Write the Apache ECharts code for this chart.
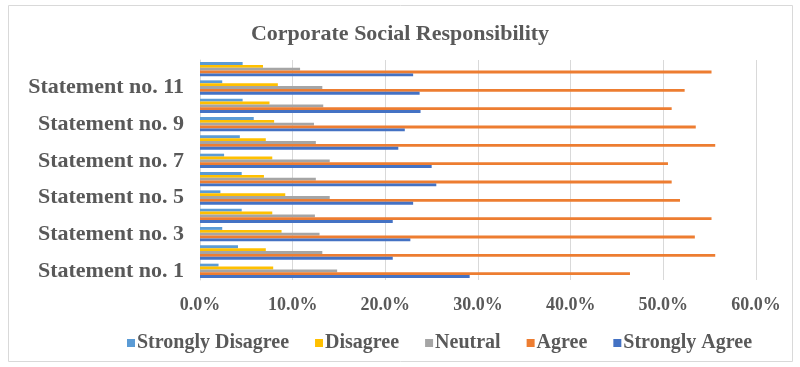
<!DOCTYPE html>
<html>
<head>
<meta charset="utf-8">
<script src="https://cdn.jsdelivr.net/npm/echarts@6/dist/echarts.min.js"></script>
<style>html,body{margin:0;padding:0;background:#fff}#c{width:800px;height:367px}</style>
</head>
<body>
<div id="c"></div>
<script>
var categories = ['Statement no. 1','Statement no. 2','Statement no. 3','Statement no. 4','Statement no. 5','Statement no. 6','Statement no. 7','Statement no. 8','Statement no. 9','Statement no. 10','Statement no. 11','Statement no. 12'];
var stronglyDisagree = [2.0, 4.1, 2.4, 4.5, 2.2, 4.5, 2.6, 4.3, 5.8, 4.6, 2.4, 4.6];
var disagree         = [7.9, 7.1, 8.8, 7.8, 9.2, 6.9, 7.8, 7.1, 8.0, 7.5, 8.4, 6.8];
var neutral          = [14.8, 13.2, 12.9, 12.4, 14.0, 12.5, 14.0, 12.5, 12.3, 13.3, 13.2, 10.8];
var agree            = [46.4, 55.6, 53.4, 55.2, 51.8, 50.9, 50.5, 55.6, 53.5, 50.9, 52.3, 55.2];
var stronglyAgree    = [29.1, 20.8, 22.7, 20.8, 23.0, 25.5, 25.0, 21.4, 22.1, 23.8, 23.7, 23.0];
var xTicks = [0, 10, 20, 30, 40, 50, 60];

var font = '"Liberation Serif", "Times New Roman", serif';
var chart = echarts.init(document.getElementById('c'));
function s(name, data, color) {
  return { name: name, type: 'bar', data: data, itemStyle: { color: color }, barGap: '0%', barCategoryGap: '22%' };
}
chart.setOption({
  animation: false,
  title: { text: 'Corporate Social Responsibility', left: 'center', top: 18,
    textStyle: { fontFamily: font, fontSize: 22, fontWeight: 'bold', color: '#595959' } },
  graphic: [{ type: 'rect', shape: { x: 8.5, y: 5.5, width: 784, height: 356 },
    style: { fill: 'none', stroke: '#d9d9d9', lineWidth: 1 }, z: -1 }],
  legend: { bottom: 9, left: 122, itemWidth: 8, itemHeight: 8, itemGap: 26, icon: 'rect',
    data: ['Strongly Disagree', 'Disagree', 'Neutral', 'Agree', 'Strongly Agree'],
    textStyle: { fontFamily: font, fontSize: 20, fontWeight: 'bold', color: '#595959', padding: [0,0,0,-3] } },
  grid: { left: 200, right: 44, top: 60, bottom: 87, containLabel: false },
  xAxis: { type: 'value', min: xTicks[0], max: xTicks[xTicks.length-1], interval: 10,
    axisLine: { show: false }, axisTick: { show: false },
    splitLine: { lineStyle: { color: '#d9d9d9' } },
    axisLabel: { margin: 16, fontFamily: font, fontSize: 18, fontWeight: 'bold', color: '#595959',
      formatter: function (v) { return v.toFixed(1) + '%'; } } },
  yAxis: { type: 'category', data: categories,
    axisLine: { show: true, lineStyle: { color: '#d9d9d9' } }, axisTick: { show: false },
    axisLabel: { interval: 1, margin: 16, fontFamily: font, fontSize: 22, fontWeight: 'bold', color: '#595959' } },
  series: [
    s('Strongly Disagree', stronglyDisagree, '#5B9BD5'),
    s('Disagree', disagree, '#FFC000'),
    s('Neutral', neutral, '#A5A5A5'),
    s('Agree', agree, '#ED7D31'),
    s('Strongly Agree', stronglyAgree, '#4472C4')
  ]
});
</script>
</body>
</html>
